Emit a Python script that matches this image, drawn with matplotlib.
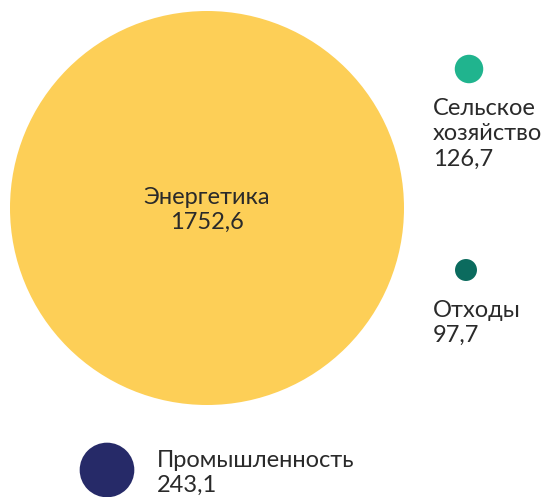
import matplotlib.pyplot as plt
from matplotlib.patches import Circle

plt.rcParams['font.family'] = ['Lato', 'DejaVu Sans']

# data
sectors = ["Энергетика", "Сельское\nхозяйство", "Отходы", "Промышленность"]
values = [1752.6, 126.7, 97.7, 243.1]
colors = ["#FDCF57", "#20B48E", "#0B6B5E", "#262A68"]

# layout (pixel coords of circle centres, label anchors)
centers = [(207, 208), (469, 69), (466, 270), (107, 470)]
labels_xy = [(207, 210), (433, 134), (433, 323), (157, 473)]
scale = 197 / 1752.6  # radius proportional to value

fig = plt.figure(figsize=(5.48, 4.97), dpi=100)
ax = fig.add_axes([0, 0, 1, 1])
ax.set_xlim(0, 548)
ax.set_ylim(497, 0)
ax.set_aspect('equal')
ax.axis('off')

txt = "#2a2a2a"
fs = 17

def fmt(v):
    return f"{v:.1f}".replace(".", ",")

for i, (name, v, c, (cx, cy)) in enumerate(zip(sectors, values, colors, centers)):
    ax.add_patch(Circle((cx, cy), v * scale, color=c, lw=0))
    lx, ly = labels_xy[i]
    ax.text(lx, ly, name + "\n" + fmt(v), ha='center' if i == 0 else 'left',
            va='center', ma='center' if i == 0 else 'left', fontsize=fs,
            color=txt, linespacing=1.27)

fig.savefig("out.png", dpi=100)
